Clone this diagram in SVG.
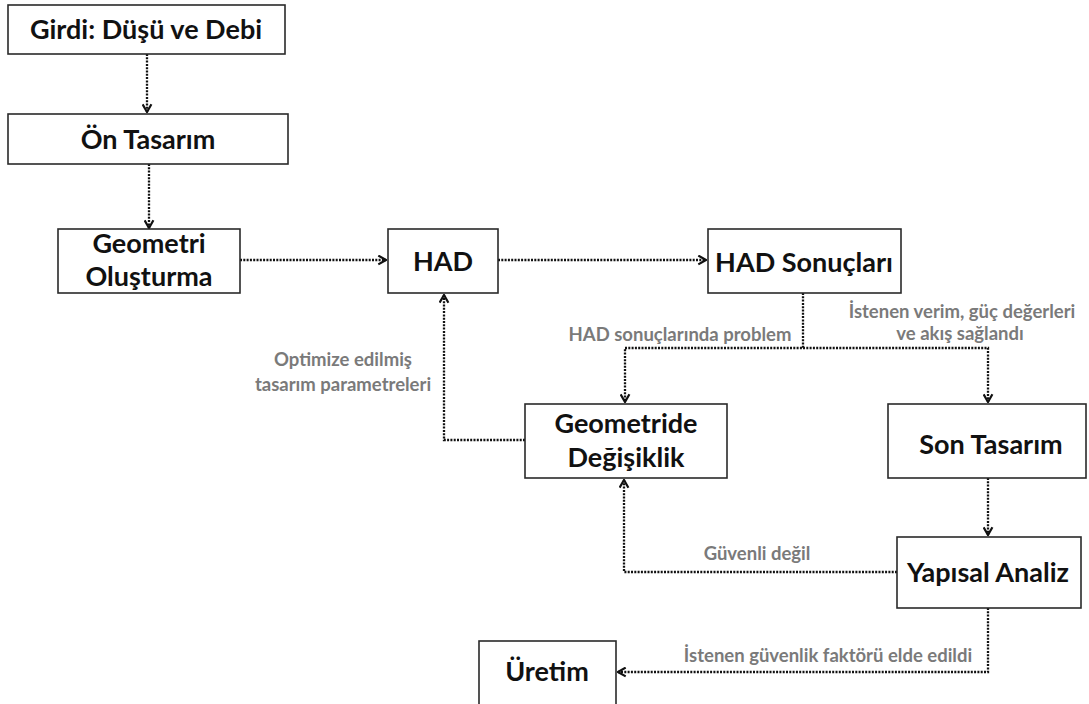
<svg xmlns="http://www.w3.org/2000/svg" width="1089" height="704" viewBox="0 0 1089 704">
<defs>
<style>
.box{fill:#fff;stroke:#2a2a2a;stroke-width:1.6}
.t{font-family:Lato,"Open Sans",sans-serif;font-weight:bold;font-size:27px;fill:#111;text-anchor:middle}
.g{font-family:Lato,"Open Sans",sans-serif;font-weight:bold;font-size:18.5px;fill:#7a7a7a;text-anchor:middle}
.c{fill:none;stroke:#111;stroke-width:2.3;stroke-dasharray:2 1.3}
</style>
<marker id="ah" viewBox="0 0 10 10" refX="9" refY="5" markerWidth="11" markerHeight="11" markerUnits="userSpaceOnUse" orient="auto">
<path d="M2,1 L9,5 L2,9" fill="none" stroke="#111" stroke-width="2"/>
</marker>
</defs>
<rect width="1089" height="704" fill="#fff"/>
<g id="connectors">
<path class="c" d="M147,54 V112" marker-end="url(#ah)"/>
<path class="c" d="M149,164 V228" marker-end="url(#ah)"/>
<path class="c" d="M240,260 H386" marker-end="url(#ah)"/>
<path class="c" d="M498,260 H706" marker-end="url(#ah)"/>
<path class="c" d="M803,293 V348 H625 V402" marker-end="url(#ah)"/>
<path class="c" d="M803,348 H988 V402" marker-end="url(#ah)"/>
<path class="c" d="M525,440 H444 V295" marker-end="url(#ah)"/>
<path class="c" d="M988,478 V535" marker-end="url(#ah)"/>
<path class="c" d="M897,572 H624 V480" marker-end="url(#ah)"/>
<path class="c" d="M988,608 V672 H618" marker-end="url(#ah)"/>
</g>
<g id="labels">
<text class="g" x="680" y="341">HAD sonuçlarında problem</text>
<text class="g" x="962" y="318">İstenen verim, güç değerleri</text>
<text class="g" x="960" y="340">ve akış sağlandı</text>
<text class="g" x="343" y="366">Optimize edilmiş</text>
<text class="g" x="343" y="391">tasarım parametreleri</text>
<text class="g" x="757" y="560">Güvenli değil</text>
<text class="g" x="828" y="662">İstenen güvenlik faktörü elde edildi</text>
</g>
<g id="girdi"><rect class="box" x="8" y="5" width="277" height="49"/><text class="t" x="146" y="39">Girdi: Düşü ve Debi</text></g>
<g id="on-tasarim"><rect class="box" x="8" y="114" width="280" height="50"/><text class="t" x="148" y="149">Ön Tasarım</text></g>
<g id="geometri"><rect class="box" x="58" y="229" width="182" height="64"/><text class="t" x="149" y="253">Geometri</text><text class="t" x="149" y="286">Oluşturma</text></g>
<g id="had"><rect class="box" x="388" y="229" width="110" height="64"/><text class="t" x="443" y="271">HAD</text></g>
<g id="had-sonuclari"><rect class="box" x="708" y="229" width="193" height="64"/><text class="t" x="804" y="272">HAD Sonuçları</text></g>
<g id="geometride-degisiklik"><rect class="box" x="525" y="404" width="202" height="74"/><text class="t" x="626" y="433">Geometride</text><text class="t" x="626" y="467">Değişiklik</text></g>
<g id="son-tasarim"><rect class="box" x="888" y="404" width="198" height="74"/><text class="t" x="991" y="454">Son Tasarım</text></g>
<g id="yapisal-analiz"><rect class="box" x="897" y="537" width="184" height="71"/><text class="t" x="988" y="582">Yapısal Analiz</text></g>
<g id="uretim"><rect class="box" x="479" y="641" width="137" height="70"/><text class="t" x="547" y="681">Üretim</text></g>
</svg>
